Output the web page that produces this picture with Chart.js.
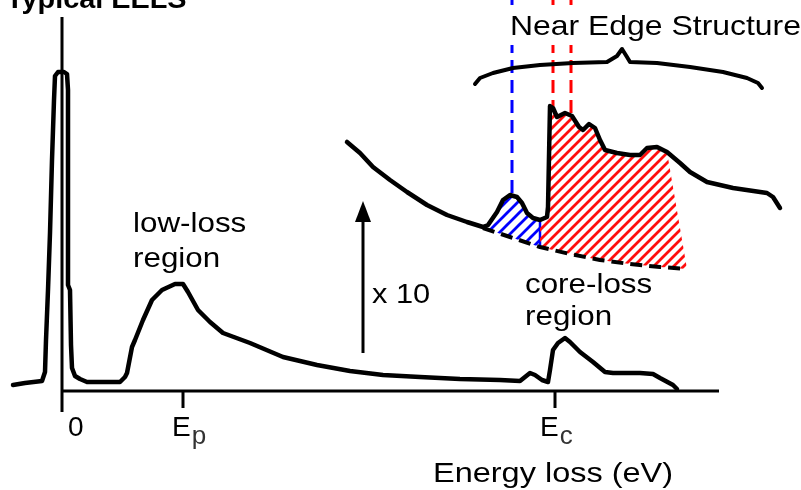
<!DOCTYPE html>
<html><head><meta charset="utf-8">
<script src="https://cdn.jsdelivr.net/npm/chart.js@4/dist/chart.umd.min.js"></script>
<style>html,body{margin:0;padding:0;background:#fff}#wrap{width:801px;height:490px;position:relative}</style>
</head><body><div id="wrap"><canvas id="c"></canvas></div>
<script>
// ---- data (energy loss in arbitrary units, intensity in arbitrary units) ----
const mainEnergy = [-49,-37,-20,-17,-16,-14,-12,-10,-8,-7,-4,2,5,6,6,8,9,10,13,18,25,58,63,65,70,73,81,90,100,113,121,126,136,148,161,188,221,255,288,321,358,398,438,458,463,468,473,480,486,488,491,496,503,508,518,531,543,551,578,591,598,611,615];
const mainIntensity = [6,8,10,19,51,101,158,231,291,315,319,319,317,301,106,101,46,23,15,12,9,9,14,18,44,51,71,91,101,107,107,99,81,69,58,48,34,26,20,16,14,12,11,10,14,18,16,11,9,21,41,48,53,49,39,29,19,18,18,17,13,6,2];

// x10 magnified inset of the core-loss edge
const insetEnergy = [285,298,311,328,345,365,385,405,421,426,435,441,448,455,460,465,471,478,485,486,488,491,495,503,510,517,521,527,533,538,543,555,568,578,585,595,605,618,628,645,671,705,711,718];
const insetIntensity = [249,238,224,211,199,186,176,169,164,166,179,191,196,194,188,178,173,171,174,184,285,283,274,278,275,264,261,267,263,251,241,238,236,236,243,244,239,228,219,209,203,198,194,183];

// extrapolated background under the edge
const bgEnergy = [421,448,478,508,538,568,598,625];
const bgIntensity = [163,154,144,137,131,127,124,122];

// integration windows [start, end of top, end of base]
const preEdgeWindow = [421, 478, 478];
const edgeWindow = [478, 605, 625];

// near-edge feature energies
const markerEnergy = [450, 491, 509];

// brace over the near edge structure
const braceEnergy = [413,418,431,451,478,511,545,555,560,565,568,595,628,661,685,696,700];
const braceIntensity = [307,313,318,323,326,328,329,335,342,334,329,328,324,319,313,308,303];

// axis ticks
const tickEnergy = [0, 121, 493];
const tickLabel = ['0', 'E', 'E'];
const tickSub = ['', 'p', 'c'];

// x10 arrow (energy, from intensity, to intensity)
const arrowSpec = [301, 38, 190];

// ---- styles ----
const FONT = '"Liberation Sans", Arial, sans-serif';
const markerColor = ['#0000ff', '#ff0000', '#ff0000'];
const tickLabelDx = [6, -11, -15];

function pts(xs, ys) { return xs.map((v, i) => ({x: v, y: ys[i]})); }
function interp(xs, ys, v) {
  if (v <= xs[0]) return ys[0];
  for (let i = 1; i < xs.length; i++) {
    if (v <= xs[i]) { const t = (v - xs[i-1]) / (xs[i] - xs[i-1]); return ys[i-1] + t * (ys[i] - ys[i-1]); }
  }
  return ys[ys.length - 1];
}
function hatch(ctx, color, step, lw) {
  const c = document.createElement('canvas'); c.width = step; c.height = step;
  const g = c.getContext('2d'); g.strokeStyle = color; g.lineWidth = lw; g.lineCap = 'square';
  g.beginPath();
  g.moveTo(0, step); g.lineTo(step, 0);
  g.moveTo(-step/2, step/2); g.lineTo(step/2, -step/2);
  g.moveTo(step/2, step*1.5); g.lineTo(step*1.5, step/2);
  g.stroke();
  return ctx.createPattern(c, 'repeat');
}
function drawText(ctx, t, px, py, size, sx, bold, color) {
  ctx.save();
  ctx.font = (bold ? 'bold ' : '') + size + 'px ' + FONT;
  ctx.fillStyle = color || '#000';
  ctx.textBaseline = 'alphabetic'; ctx.textAlign = 'left';
  ctx.translate(px, py); ctx.scale(sx, 1); ctx.fillText(t, 0, 0);
  const w = ctx.measureText(t).width * sx;
  ctx.restore();
  return w;
}

const regions = [
  {win: preEdgeWindow, color: '#0000ff', step: 12, edge: true},
  {win: edgeWindow, color: '#ff0d0d', step: 10, edge: false}
];

const eelsPlugin = {
  id: 'eels',
  beforeDatasetsDraw(chart) {
    const {ctx, scales: {x, y}} = chart;
    const X = v => x.getPixelForValue(v), Y = v => y.getPixelForValue(v);
    ctx.save();
    // hatched integration windows
    regions.forEach(r => {
      const [a, b, c] = r.win;
      const poly = [];
      poly.push([a, interp(insetEnergy, insetIntensity, a)]);
      insetEnergy.forEach((e, i) => { if (e > a && e < b) poly.push([e, insetIntensity[i]]); });
      poly.push([b, interp(insetEnergy, insetIntensity, b)]);
      poly.push([c, interp(bgEnergy, bgIntensity, c)]);
      for (let i = bgEnergy.length - 1; i >= 0; i--) if (bgEnergy[i] > a && bgEnergy[i] < c) poly.push([bgEnergy[i], bgIntensity[i]]);
      poly.push([a, interp(bgEnergy, bgIntensity, a)]);
      ctx.beginPath();
      poly.forEach((p, i) => i ? ctx.lineTo(X(p[0]), Y(p[1])) : ctx.moveTo(X(p[0]), Y(p[1])));
      ctx.closePath();
      ctx.fillStyle = hatch(ctx, r.color, r.step, 2.8);
      ctx.fill();
      if (r.edge) {
        ctx.strokeStyle = r.color; ctx.lineWidth = 2.5;
        ctx.beginPath(); ctx.moveTo(X(b), Y(interp(insetEnergy, insetIntensity, b))); ctx.lineTo(X(c), Y(interp(bgEnergy, bgIntensity, c))); ctx.stroke();
      }
    });
    // dashed marker lines
    markerEnergy.forEach((e, i) => {
      ctx.strokeStyle = markerColor[i]; ctx.lineWidth = 3; ctx.setLineDash([13, 7]); ctx.lineCap = 'butt';
      ctx.beginPath(); ctx.moveTo(X(e), chart.chartArea.top); ctx.lineTo(X(e), Y(interp(insetEnergy, insetIntensity, e))); ctx.stroke();
    });
    ctx.setLineDash([]);
    // axes
    ctx.strokeStyle = '#000'; ctx.lineWidth = 3; ctx.lineCap = 'butt';
    ctx.beginPath(); ctx.moveTo(X(0), Y(0)); ctx.lineTo(X(657), Y(0)); ctx.stroke();
    ctx.beginPath(); ctx.moveTo(X(0), Y(374)); ctx.lineTo(X(0), Y(-21)); ctx.stroke();
    tickEnergy.forEach((e, i) => {
      if (i > 0) { ctx.beginPath(); ctx.moveTo(X(e), Y(0)); ctx.lineTo(X(e), Y(-17)); ctx.stroke(); }
    });
    ctx.restore();
  },
  afterDatasetsDraw(chart) {
    const {ctx, scales: {x, y}} = chart;
    const X = v => x.getPixelForValue(v), Y = v => y.getPixelForValue(v);
    ctx.save();
    // x10 arrow
    const [ae, a0, a1] = arrowSpec;
    ctx.strokeStyle = '#000'; ctx.fillStyle = '#000'; ctx.lineWidth = 3;
    ctx.beginPath(); ctx.moveTo(X(ae), Y(a0)); ctx.lineTo(X(ae), Y(a1) + 18); ctx.stroke();
    ctx.beginPath(); ctx.moveTo(X(ae), Y(a1)); ctx.lineTo(X(ae) - 8, Y(a1) + 21); ctx.lineTo(X(ae) + 8, Y(a1) + 21); ctx.closePath(); ctx.fill();
    // tick labels
    tickEnergy.forEach((e, i) => {
      const px = X(e) + tickLabelDx[i], py = Y(-45);
      const w = drawText(ctx, tickLabel[i], px, py, 28, 1.0, false);
      if (tickSub[i]) drawText(ctx, tickSub[i], px + w + 1, py + 8, 26, 1.0, false, '#333');
    });
    // labels
    drawText(ctx, 'Typical EELS', X(-56), Y(383), 28, 1.03, true);
    drawText(ctx, 'low-loss', X(71), Y(159), 28, 1.12, false);
    drawText(ctx, 'region', X(71), Y(124), 28, 1.12, false);
    drawText(ctx, 'x 10', X(310), Y(88), 28, 1.1, false);
    drawText(ctx, 'core-loss', X(463), Y(98), 28, 1.12, false);
    drawText(ctx, 'region', X(463), Y(66), 28, 1.12, false);
    ctx.fillStyle = '#fff';
    ctx.fillRect(X(443), Y(386), 801 - X(443), 40);
    drawText(ctx, 'Near Edge Structure', X(448), Y(356), 28.5, 1.12, false);
    drawText(ctx, 'Energy loss (eV)', X(371), Y(-91), 28, 1.16, false);
    ctx.restore();
  }
};

const lineBase = {showLine: true, borderColor: '#000', pointRadius: 0, borderJoinStyle: 'round', borderCapStyle: 'round', tension: 0, clip: false, fill: false};

new Chart(document.getElementById('c'), {
  type: 'scatter',
  data: {datasets: [
    Object.assign({label: 'EELS spectrum', data: pts(mainEnergy, mainIntensity), borderWidth: 4.5}, lineBase),
    Object.assign({label: 'x10 edge', data: pts(insetEnergy, insetIntensity), borderWidth: 4.5}, lineBase),
    Object.assign({}, lineBase, {label: 'background', data: pts(bgEnergy, bgIntensity), borderWidth: 4, borderDash: [12, 7], borderCapStyle: 'butt'}),
    Object.assign({label: 'brace', data: pts(braceEnergy, braceIntensity), borderWidth: 4}, lineBase)
  ]},
  options: {
    responsive: true, maintainAspectRatio: false, animation: false, devicePixelRatio: 1,
    layout: {padding: 0},
    plugins: {legend: {display: false}, tooltip: {enabled: false}},
    scales: {
      x: {type: 'linear', min: -62, max: 739, display: false},
      y: {type: 'linear', min: -99, max: 391, display: false}
    }
  },
  plugins: [eelsPlugin]
});
</script></body></html>
